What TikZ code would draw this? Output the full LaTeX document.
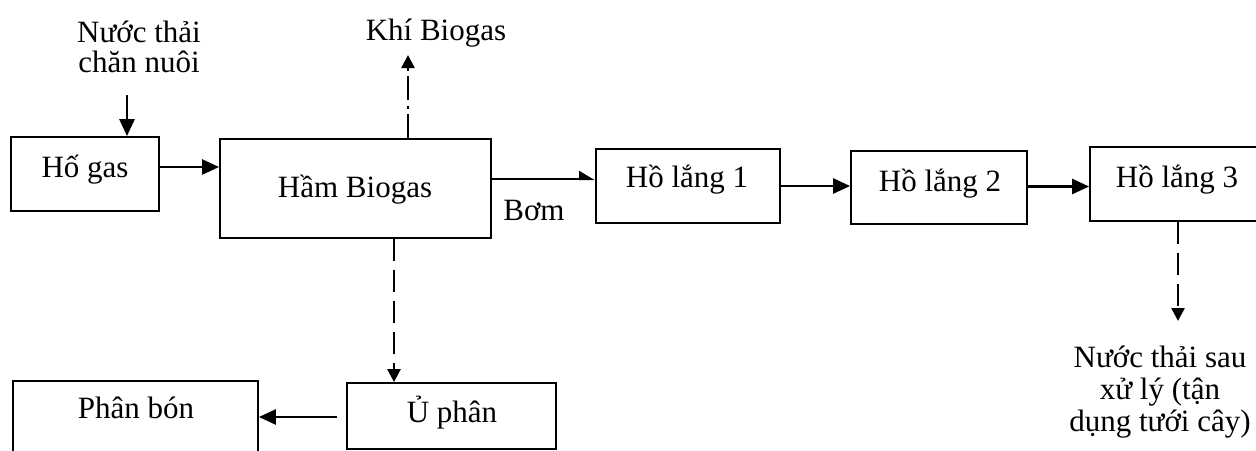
\documentclass[tikz,border=0pt]{standalone}
\usepackage{fontspec}
\setmainfont{Liberation Serif}
\usetikzlibrary{arrows.meta}
\tikzset{
  box/.style={draw, line width=1.8pt, inner sep=0pt, minimum width=#1},
  lbl/.style={anchor=base, inner sep=0pt, font=\fontsize{31}{31}\selectfont},
  mlbl/.style={anchor=base, inner sep=0pt, align=center, font=\fontsize{31}{#1}\selectfont},
  flow/.style={line width=2.6pt, -{Triangle[length=17pt,width=15pt]}},
  dflow/.style={line width=2.6pt, dash pattern=on 22pt off 9pt, -{Triangle[length=13pt,width=13pt]}},
  gflow/.style={line width=2.4pt, dash pattern=on 24pt off 5pt on 3pt off 6pt, -{Triangle[length=13pt,width=13pt]}}
}
\begin{document}
\begin{tikzpicture}[x=1pt,y=-1pt]
\useasboundingbox (0,0) rectangle (1256,450);
\clip (0,0) rectangle (1256,450);
\fill[white] (0,0) rectangle (1256,450);
% boxes
\node[box=148pt, minimum height=74pt] (hogas) at (85,174) {};
\node[box=271pt, minimum height=99pt] (ham) at (355.5,188.5) {};
\node[box=184pt, minimum height=74pt] (ho1) at (688,186) {};
\node[box=176pt, minimum height=73pt] (ho2) at (939,187.5) {};
\node[box=172pt, minimum height=74pt] (ho3) at (1176,184) {};
\node[box=245pt, minimum height=75pt] (phanbon) at (135.5,418.5) {};
\node[box=209pt, minimum height=66pt] (uphan) at (451.5,416) {};
% texts
\node[lbl] (thogas) at (85,177) {Hố gas};
\node[lbl] (tham) at (355,197) {Hầm Biogas};
\node[lbl] (tho1) at (687,187) {Hồ lắng 1};
\node[lbl] (tho2) at (940,191) {Hồ lắng 2};
\node[lbl] (tho3) at (1177,187) {Hồ lắng 3};
\node[lbl] (tphanbon) at (136,418) {Phân bón};
\node[lbl] (tuphan) at (452,422) {Ủ phân};
\node[lbl] (bom) at (534,220) {Bơm};
\node[lbl] (khi) at (436,40) {Khí Biogas};
\node[mlbl=30] (nuoc) at (139,72) {Nước thải\\chăn nuôi};
\node[mlbl=32] (sau) at (1160,431) {Nước thải sau\\xử lý (tận\\dụng tưới cây)};
% free ends
\coordinate (nuocend) at (127,95);
\coordinate (khitip) at (408,55);
\coordinate (sautip) at (1178,321);
% connectors
\draw[flow] (nuocend) -- (nuocend |- hogas.north);
\draw[flow] ([yshift=7pt]hogas.east) -- ([yshift=7pt]hogas.east -| ham.west);
\draw[gflow] (khitip |- ham.north) -- (khitip);
\draw[line width=2.4pt, -{Triangle[harpoon,length=14pt,width=16pt]}] ([yshift=9.5pt]ham.east) -- ([yshift=9.5pt]ham.east -| ho1.west);
\draw[flow] (ho1.east) -- (ho1.east -| ho2.west);
\draw[flow] ([yshift=1pt]ho2.east) -- ([yshift=1pt]ho2.east -| ho3.west);
\draw[dflow] (sautip |- ho3.south) -- (sautip);
\draw[dflow] ([xshift=38.5pt]ham.south) -- ([xshift=38.5pt]ham.south |- uphan.north);
\draw[flow, shorten <=9pt] ([yshift=-1pt]uphan.west) -- ([yshift=-1pt]uphan.west -| phanbon.east);
\end{tikzpicture}
\end{document}
